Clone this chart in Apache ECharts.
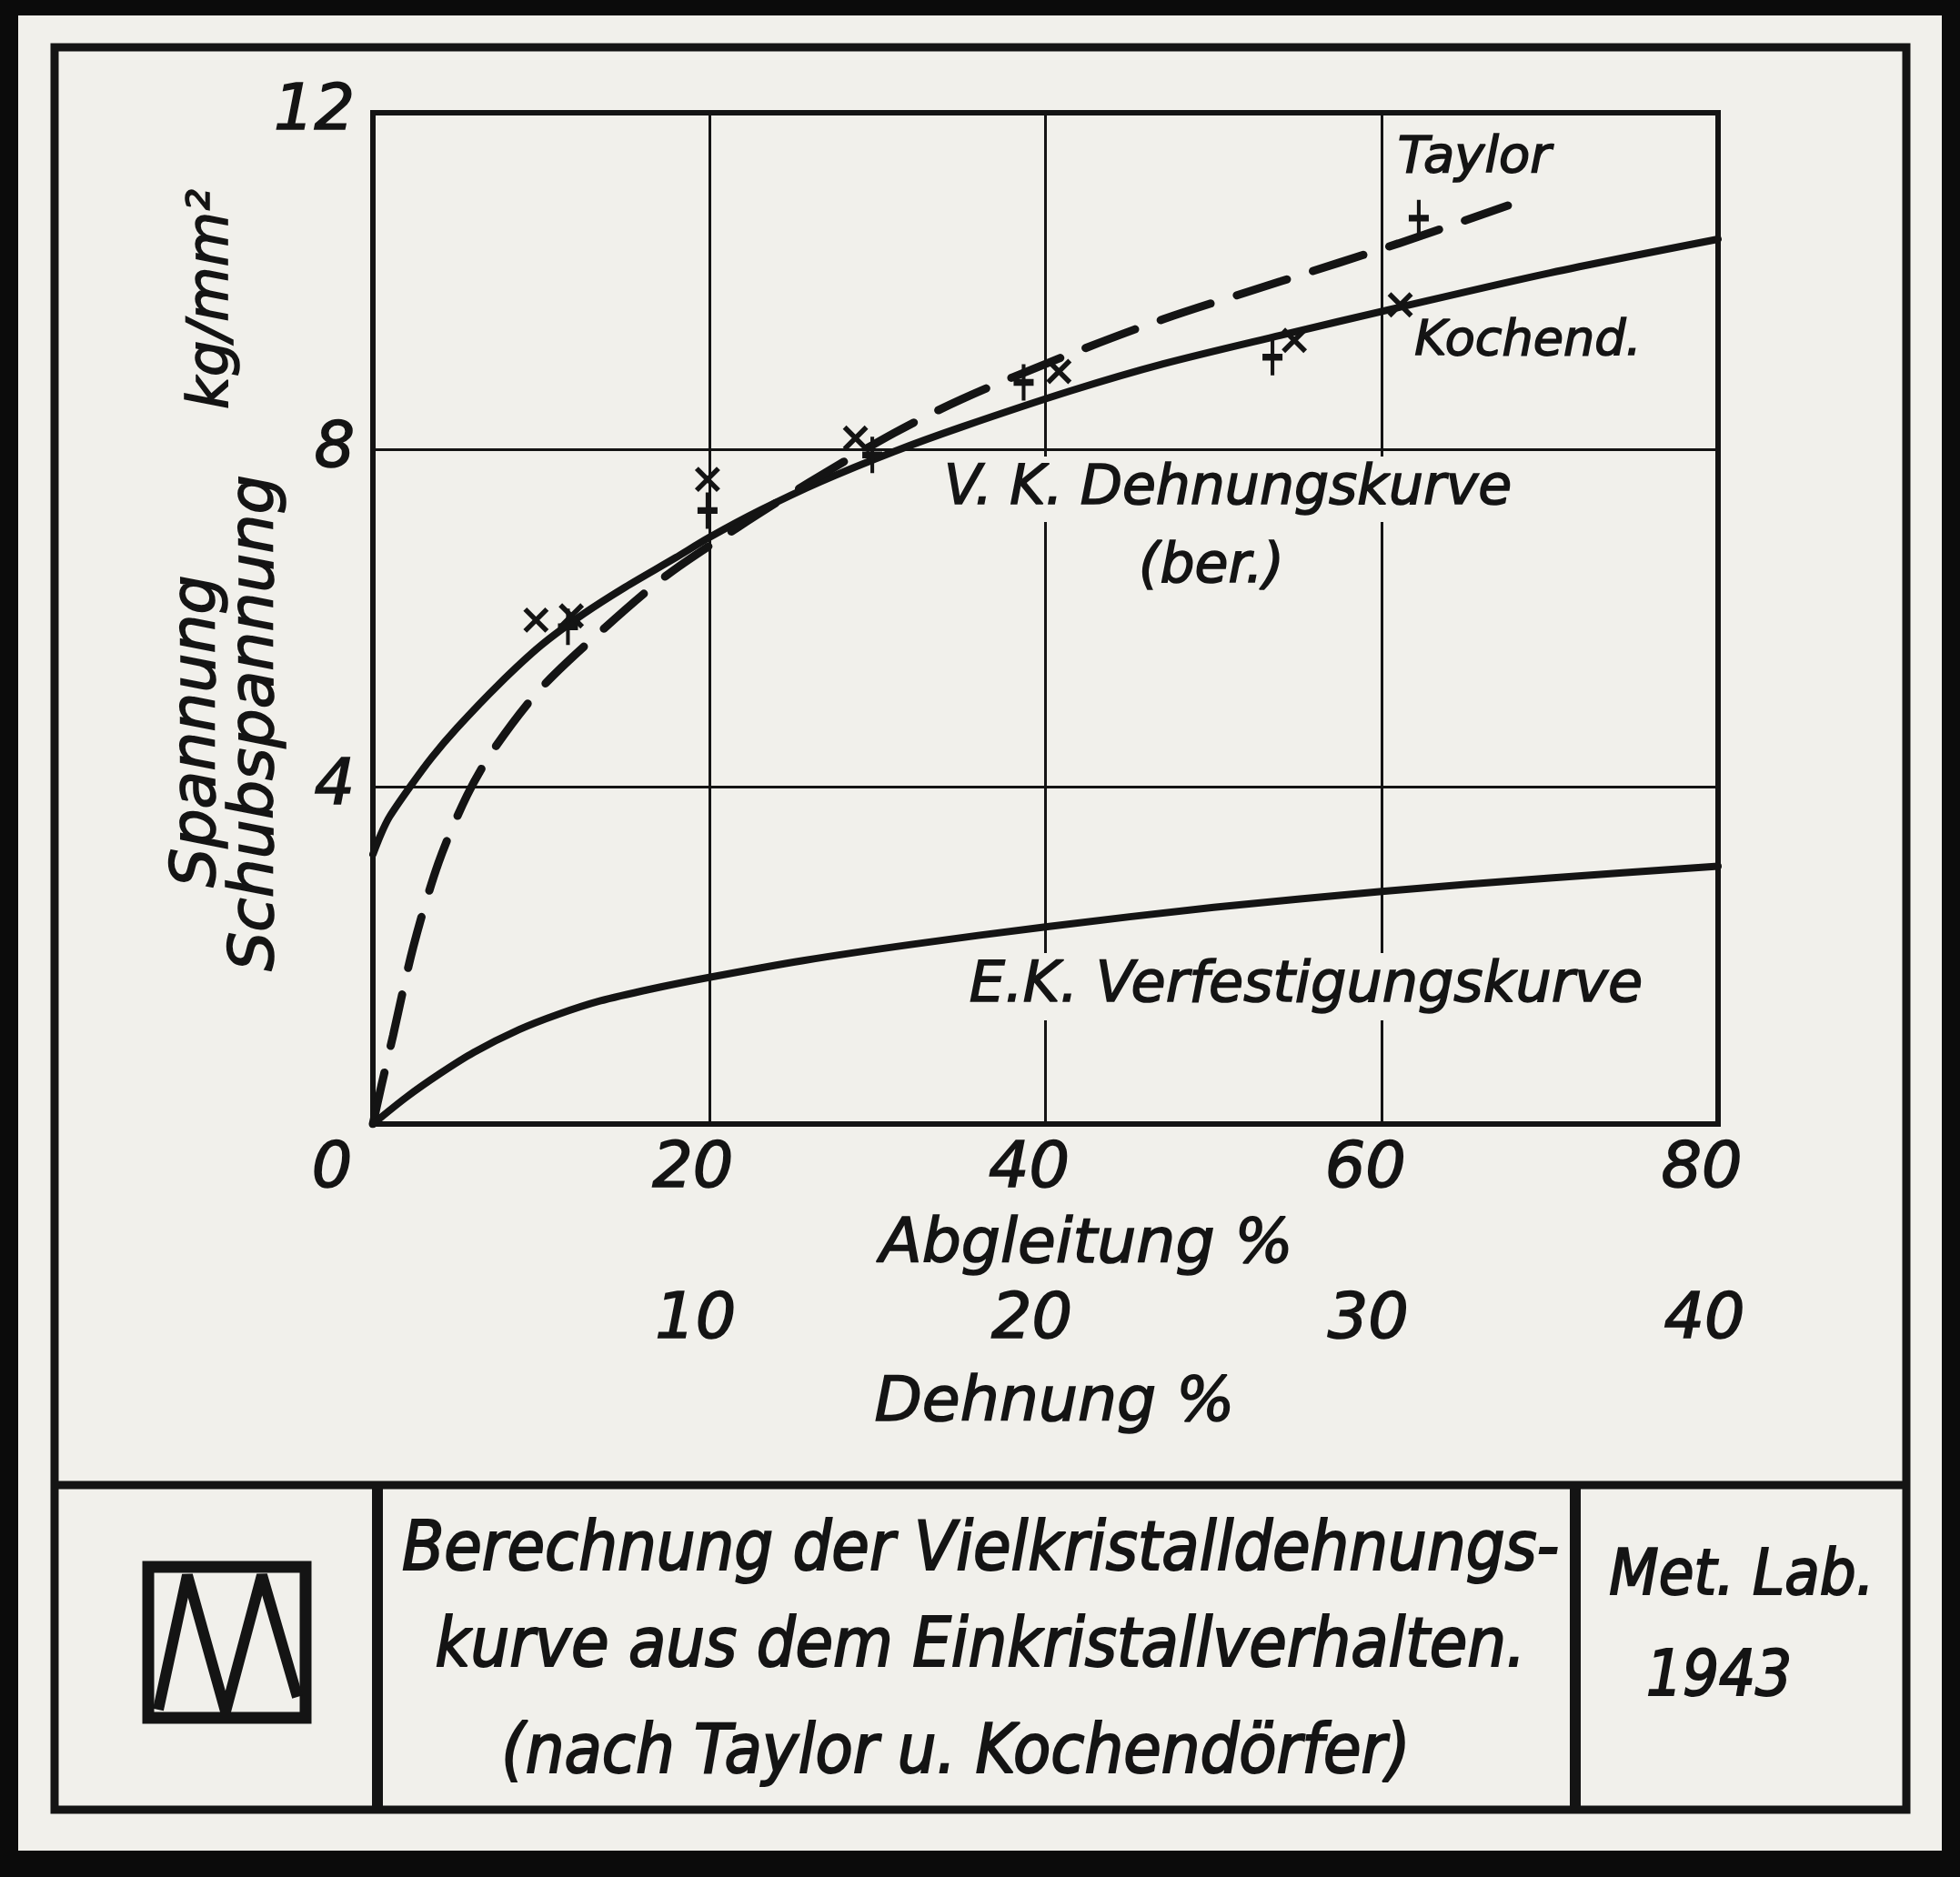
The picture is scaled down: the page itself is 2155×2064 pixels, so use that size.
<!DOCTYPE html>
<html>
<head>
<meta charset="utf-8">
<script src="https://cdn.jsdelivr.net/npm/echarts@6/dist/echarts.min.js"></script>
<style>
  html, body { margin: 0; padding: 0; background: #0b0b0b; }
  #chart { width: 2155px; height: 2064px; }
</style>
</head>
<body>
<div id="chart"></div>
<script>
// Abgleitung % (x) / Spannung kg/mm2 (y)
var vkCurve = [
  [0, 3.2], [0.5, 3.45], [1, 3.65], [2.2, 4.0], [3.5, 4.35], [5, 4.7], [7.5, 5.22],
  [10, 5.68], [12.5, 6.05], [15, 6.37], [18, 6.72], [20, 6.96], [23, 7.28],
  [26.6, 7.62], [31, 7.98], [35, 8.27], [41.5, 8.7], [47, 9.02], [54, 9.36],
  [61, 9.69], [70, 10.1], [80, 10.5]
];
var taylorCurve = [
  [0, 0], [0.5, 0.45], [1.2, 1.05], [2.4, 2.1], [3.9, 3.1], [5.6, 3.9], [7.2, 4.45],
  [9.9, 5.15], [13.3, 5.8], [17.4, 6.5], [21.7, 7.08], [26, 7.62], [31, 8.2],
  [35, 8.6], [41, 9.1], [47, 9.55], [54, 10.0], [61, 10.45], [67.5, 10.9]
];
var ekCurve = [
  [0, 0], [2, 0.32], [4, 0.6], [6, 0.85], [8.7, 1.12], [11, 1.3], [13.5, 1.46],
  [16.5, 1.6], [20, 1.74], [25.6, 1.94], [32, 2.13], [40, 2.34], [50, 2.57],
  [60, 2.76], [70, 2.92], [80, 3.06]
];
// Messpunkte
var kochendPoints = [[9.7, 5.98], [11.8, 6.03], [19.9, 7.65], [28.7, 8.14], [40.8, 8.93], [54.8, 9.3], [61.1, 9.72]];
var taylorPoints = [[11.6, 5.9], [19.9, 7.28], [29.7, 7.94], [38.7, 8.8], [53.5, 9.1], [62.2, 10.75]];

var xTicks = [0, 20, 40, 60, 80];       // Abgleitung %
var dehnungTicks = [10, 20, 30, 40];     // Dehnung %
var yTicks = [4, 8, 12];

var ink = '#141414';
var paper = '#f1f0eb';
var fam = '"DejaVu Sans", sans-serif';
var famNarrow = '"DejaVu Sans Condensed", "DejaVu Sans", sans-serif';

function txt(text, x, y, size, opts) {
  opts = opts || {};
  return {
    type: 'text', x: x, y: y, z: 100, rotation: opts.rotation || 0,
    style: {
      text: text, fill: ink, stroke: ink, lineWidth: opts.stroke || 1.6,
      font: 'italic ' + size + 'px ' + (opts.narrow ? famNarrow : fam),
      align: 'center', verticalAlign: 'middle',
      backgroundColor: opts.bg ? paper : null,
      padding: opts.bg ? [6, 10, 6, 10] : 0
    }
  };
}

var labelStyle = { fontFamily: fam, fontStyle: 'italic', fontSize: 70, color: ink, textBorderColor: ink, textBorderWidth: 1.6 };

var myChart = echarts.init(document.getElementById('chart'));
var option = {
  backgroundColor: '#0b0b0b',
  animation: false,
  grid: { left: 410, top: 124, width: 1479, height: 1112, show: true, borderColor: ink, borderWidth: 6 },
  xAxis: [
    {
      type: 'value', min: 0, max: 80, interval: 20, position: 'bottom',
      axisLine: { show: false }, axisTick: { show: false },
      splitLine: { lineStyle: { color: ink, width: 3 } },
      axisLabel: {
        margin: 16, padding: [0, 36, 0, 0],
        fontFamily: fam, fontStyle: 'italic', fontSize: 70, color: ink,
        formatter: function (v) { return xTicks.indexOf(v) < 0 ? '' : (v === 0 ? '{z|0}' : '{n|' + v + '}'); },
        rich: {
          z: Object.assign({ padding: [0, 54, 22, 0] }, labelStyle),
          n: Object.assign({}, labelStyle)
        }
      },
      name: 'Abgleitung %', nameLocation: 'middle', nameGap: 100,
      nameTextStyle: Object.assign({}, labelStyle, { fontSize: 68, padding: [0, 0, 0, 90] })
    },
    {
      type: 'value', min: 0, max: 40, interval: 10, position: 'bottom', offset: 166,
      axisLine: { show: false }, axisTick: { show: false }, splitLine: { show: false },
      axisLabel: Object.assign({ margin: 16, padding: [0, 30, 0, 0], showMinLabel: false,
        formatter: function (v) { return dehnungTicks.indexOf(v) < 0 ? '' : String(v); } }, labelStyle),
      name: 'Dehnung %', nameLocation: 'middle', nameGap: 108,
      nameTextStyle: Object.assign({}, labelStyle, { fontSize: 68, padding: [0, 0, 0, 20] })
    }
  ],
  yAxis: {
    type: 'value', min: 0, max: 12, interval: 4,
    axisLine: { show: false }, axisTick: { show: false },
    splitLine: { lineStyle: { color: ink, width: 3 } },
    axisLabel: Object.assign({ margin: 20, showMinLabel: false,
      formatter: function (v) { return yTicks.indexOf(v) < 0 ? '' : String(v); } }, labelStyle)
  },
  series: [
    {
      name: 'V.K. Dehnungskurve', type: 'line', data: vkCurve, smooth: 0.3,
      showSymbol: false, symbol: 'none', z: 3,
      lineStyle: { color: ink, width: 8, cap: 'round' }
    },
    {
      name: 'Taylor', type: 'line', data: taylorCurve, smooth: 0.3,
      showSymbol: false, symbol: 'none', z: 3,
      lineStyle: { color: ink, width: 9, type: [58, 30], cap: 'round' }
    },
    {
      name: 'E.K. Verfestigungskurve', type: 'line', data: ekCurve, smooth: 0.3,
      showSymbol: false, symbol: 'none', z: 3,
      lineStyle: { color: ink, width: 8, cap: 'round' }
    },
    {
      name: 'Kochend. Punkte', type: 'scatter', data: kochendPoints, z: 4,
      symbol: 'path://M0,0L10,10M10,0L0,10', symbolSize: [24, 24],
      itemStyle: { color: 'transparent', borderColor: ink, borderWidth: 5.5, opacity: 1 }
    },
    {
      name: 'Taylor Punkte', type: 'scatter', data: taylorPoints, z: 4,
      symbol: 'path://M5,0L5,16M0,8L10,8', symbolSize: [22, 40],
      itemStyle: { color: 'transparent', borderColor: ink, borderWidth: 5.5, opacity: 1 }
    }
  ],
  graphic: [
    // Karton
    { type: 'rect', z: -10, shape: { x: 20, y: 17, width: 2115, height: 2018 }, style: { fill: paper } },
    // Rahmen
    { type: 'rect', z: 1, shape: { x: 60, y: 52, width: 2036, height: 1938 }, style: { fill: 'none', stroke: ink, lineWidth: 9 } },
    { type: 'line', z: 1, shape: { x1: 60, y1: 1633, x2: 2096, y2: 1633 }, style: { stroke: ink, lineWidth: 9 } },
    { type: 'line', z: 1, shape: { x1: 415, y1: 1633, x2: 415, y2: 1990 }, style: { stroke: ink, lineWidth: 12 } },
    { type: 'line', z: 1, shape: { x1: 1732, y1: 1633, x2: 1732, y2: 1990 }, style: { stroke: ink, lineWidth: 12 } },
    // Logo
    { type: 'rect', z: 1, shape: { x: 163, y: 1723, width: 173, height: 166 }, style: { fill: 'none', stroke: ink, lineWidth: 13 } },
    { type: 'polyline', z: 1, shape: { points: [[174, 1880], [206, 1732], [248, 1882], [288, 1732], [327, 1866]] },
      style: { fill: 'none', stroke: ink, lineWidth: 12, lineJoin: 'bevel' } },
    // Achsentitel
    txt('Spannung', 218, 804, 68, { rotation: Math.PI / 2 }),
    txt('Schubspannung', 282, 795, 68, { rotation: Math.PI / 2 }),
    txt('kg/mm²', 234, 329, 62, { rotation: Math.PI / 2 }),
    // Kurvenbeschriftung
    txt('Taylor', 1621, 174, 56),
    txt('Kochend.', 1680, 376, 54),
    txt('V. K. Dehnungskurve', 1350, 538, 60, { bg: true }),
    txt('(ber.)', 1332, 624, 60, { bg: true }),
    txt('E.K. Verfestigungskurve', 1436, 1085, 62, { bg: true }),
    // Titelfeld
    txt('Berechnung der Vielkristalldehnungs-', 1078, 1707, 75, { narrow: true, stroke: 2 }),
    txt('kurve aus dem Einkristallverhalten.', 1078, 1813, 75, { narrow: true, stroke: 2 }),
    txt('(nach Taylor u. Kochendörfer)', 1051, 1930, 75, { narrow: true, stroke: 2 }),
    txt('Met. Lab.', 1915, 1735, 70, { narrow: true, stroke: 2 }),
    txt('1943', 1890, 1846, 70, { narrow: true, stroke: 2 })
  ]
};
myChart.setOption(option);
</script>
</body>
</html>
